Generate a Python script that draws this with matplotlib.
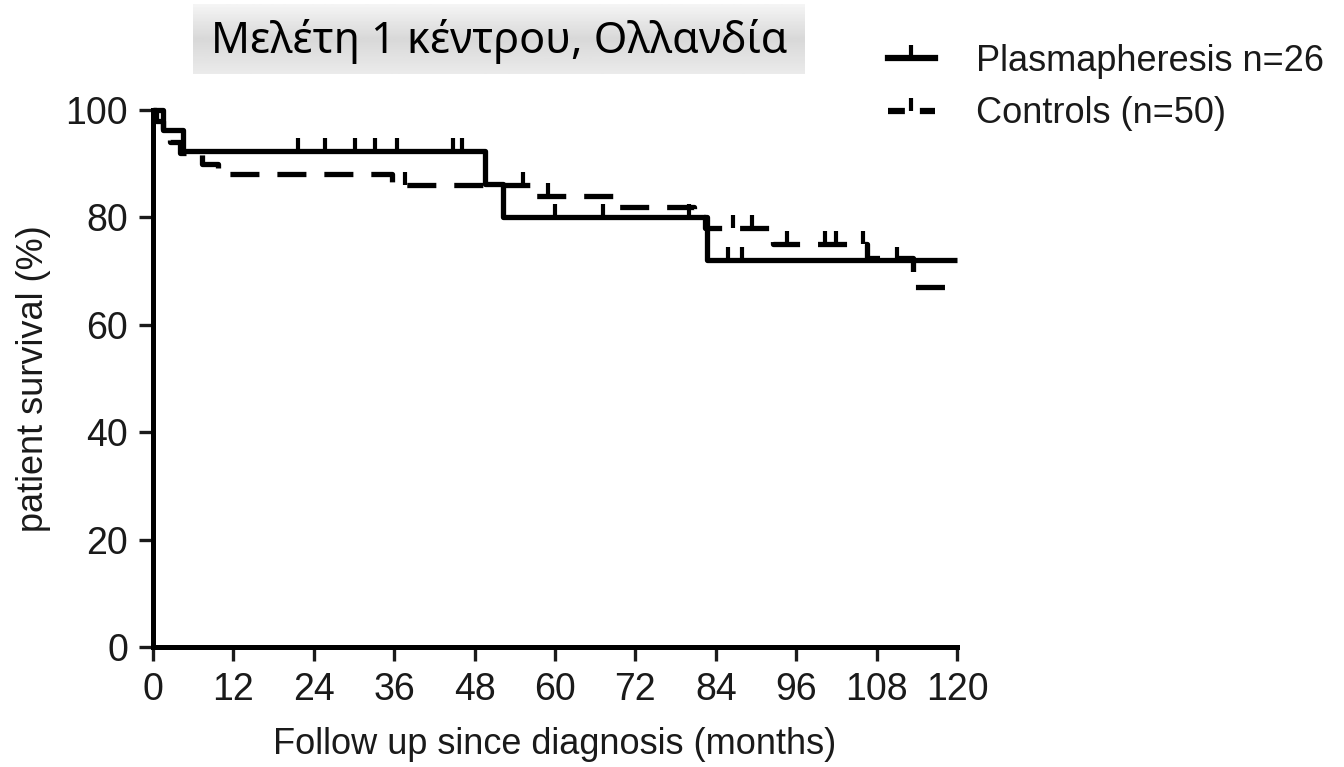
import matplotlib

matplotlib.use('Agg')
import matplotlib.pyplot as plt
import numpy as np
from matplotlib.lines import Line2D
from matplotlib.path import Path

# Kaplan-Meier steps (months, % survival)
plasma_t = [0, 1.5, 4.5, 49.6, 52.3, 82.7, 120]
plasma_s = [100, 96.2, 92.3, 86.2, 80.0, 72.0, 72.0]
plasma_cens = [21.6, 25.7, 30.1, 33.1, 36.4, 44.8, 46.1, 60.0, 67.2, 80.0, 85.8, 87.9, 111.0]

control_t = [0, 0.5, 1.5, 2.5, 4.0, 7.3, 9.7, 35.7, 56.3, 68.7, 80.8, 82.4, 92.5, 106.5, 113.4, 120]
control_s = [100, 98, 96, 94, 92, 90, 88, 86, 84, 82, 80, 78, 75, 72.4, 67, 67]
control_cens = [37.6, 55.2, 59.0, 86.6, 89.4, 94.6, 100.3, 102.0, 106.0]

labels = ['Plasmapheresis n=26', 'Controls (n=50)']
title = 'Μελέτη 1 κέντρου, Ολλανδία'
xticks = np.arange(0, 121, 12)
yticks = np.arange(0, 101, 20)

# vertical tick that sits on top of the line, like prism censor marks
tick = Path([(0, 0), (0, 1)], [Path.MOVETO, Path.LINETO])
DASH = (5.5, 3.4)
LW = 3.8


def at(t, s, c):
    """survival value of a step curve at times c"""
    idx = np.searchsorted(t, c, side='right') - 1
    return np.asarray(s)[idx]


plt.rcParams['font.family'] = ['Liberation Sans', 'DejaVu Sans']
fig = plt.figure(figsize=(13.44, 7.67), dpi=100)
ax = fig.add_axes([153 / 1344, 1 - 647 / 767, 804 / 1344, 537 / 767])

ax.plot(plasma_t, plasma_s, drawstyle='steps-post', color='k', lw=LW, clip_on=False,
        solid_capstyle='butt')
ax.plot(plasma_cens, at(plasma_t, plasma_s, plasma_cens), ls='none', marker=tick,
        ms=19, mew=3, color='k', clip_on=False)

ax.plot(control_t, control_s, drawstyle='steps-post', color='k', lw=LW, clip_on=False,
        dashes=DASH, dash_capstyle='butt')
ax.plot(control_cens, at(control_t, control_s, control_cens), ls='none', marker=tick,
        ms=19, mew=3, color='k', clip_on=False)

ax.set_xlim(0, 120)
ax.set_ylim(0, 100)
ax.set_xticks(xticks)
ax.set_yticks(yticks)
for side in ['top', 'right']:
    ax.spines[side].set_visible(False)
for side in ['left', 'bottom']:
    ax.spines[side].set_linewidth(3.6)
ax.tick_params(direction='out', length=10, width=2.4, labelsize=27, pad=8, colors='#1a1a1a')
ax.set_xlabel('Follow up since diagnosis (months)', fontsize=26, color='#1a1a1a', labelpad=14)
ax.set_ylabel('patient survival (%)', fontsize=26, color='#1a1a1a', labelpad=10)

handles = [Line2D([], [], color='k', lw=4.5, marker=tick, ms=19, mew=3),
           Line2D([], [], color='k', lw=4.5, dashes=(2.7, 2.4), marker=tick, ms=19, mew=3)]
fig.legend(handles, labels, loc='upper left', bbox_to_anchor=(888 / 1344, 1 - 44 / 767),
           frameon=False, fontsize=26, handlelength=1.3, handletextpad=1.15,
           borderpad=0, borderaxespad=0, labelspacing=0.48, numpoints=1,
           labelcolor='#1a1a1a')

# grey title banner
tax = fig.add_axes([193 / 1344, 1 - 74 / 767, 612 / 1344, 70 / 767])
grad = np.concatenate([np.linspace(0.96, 0.85, 20), np.linspace(0.85, 0.92, 20)])
tax.imshow(grad[:, None], cmap='gray', vmin=0, vmax=1, aspect='auto', extent=[0, 1, 0, 1])
tax.text(0.5, 0.47, title, ha='center', va='center', fontsize=31,
         family=['Noto Sans', 'DejaVu Sans'], color='k')
tax.set_axis_off()

fig.savefig('out.png', dpi=100)
